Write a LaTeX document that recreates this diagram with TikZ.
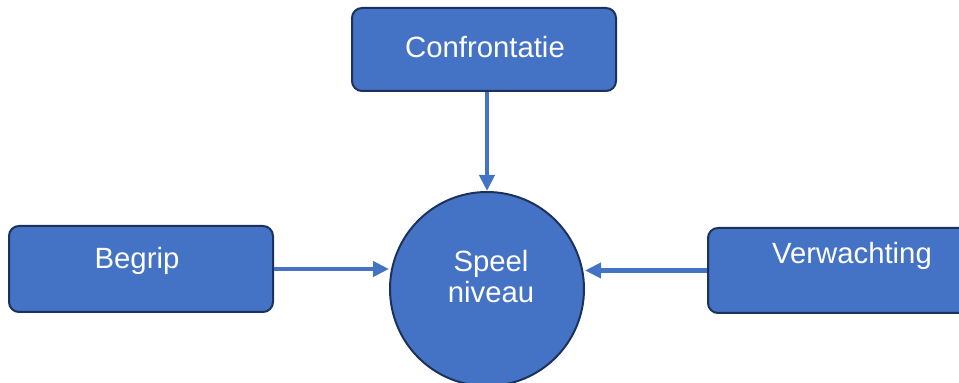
\documentclass[tikz,border=0pt]{standalone}
\usepackage{fontspec}
\setmainfont{Liberation Sans}
\usetikzlibrary{arrows.meta,positioning}
\definecolor{cFill}{RGB}{68,114,196}
\definecolor{cEdge}{RGB}{28,50,92}
\tikzset{
  box/.style={draw=cEdge, fill=cFill, line width=2pt, rounded corners=10pt,
              minimum width=264pt, minimum height=84pt, inner sep=0pt},
  circ/.style={circle, draw=cEdge, fill=cFill, line width=2pt,
               minimum size=194pt, inner sep=0pt},
  txt/.style={text=white, align=center, inner sep=0pt,
              font=\fontsize{29.3}{31}\selectfont},
  arr/.style={-{Triangle[length=16pt,width=15pt]}, draw=cFill, line width=4.5pt},
}
\begin{document}
\begin{tikzpicture}[x=1pt, y=1pt]
  \useasboundingbox (0,0) rectangle (959,383);
  \node[circ] (niveau) at (487,94) {};
  \node[box, above=99pt of niveau, xshift=-3pt, minimum height=83pt] (conf) {};
  \node[box, left=115pt of niveau, yshift=20pt, minimum height=86pt] (begrip) {};
  \node[box, right=122pt of niveau, yshift=18.5pt, minimum height=85pt] (verw) {};

  \node[txt] (niveautxt) at ([xshift=4pt, yshift=12pt]niveau.center) {Speel\\niveau};
  \node[txt] (conftxt) at ([xshift=1pt, yshift=2.5pt]conf.center) {Confrontatie};
  \node[txt] (begriptxt) at ([xshift=-4pt, yshift=8.5pt]begrip.center) {Begrip};
  \node[txt] (verwtxt) at ([xshift=12pt, yshift=15pt]verw.center) {Verwachting};

  \draw[arr] (niveau.north |- conf.south) -- (niveau.north);
  \draw[arr] (begrip.east) -- (begrip.east -| niveau.west);
  \draw[arr] (verw.west) -- (verw.west -| niveau.east);
\end{tikzpicture}
\end{document}
